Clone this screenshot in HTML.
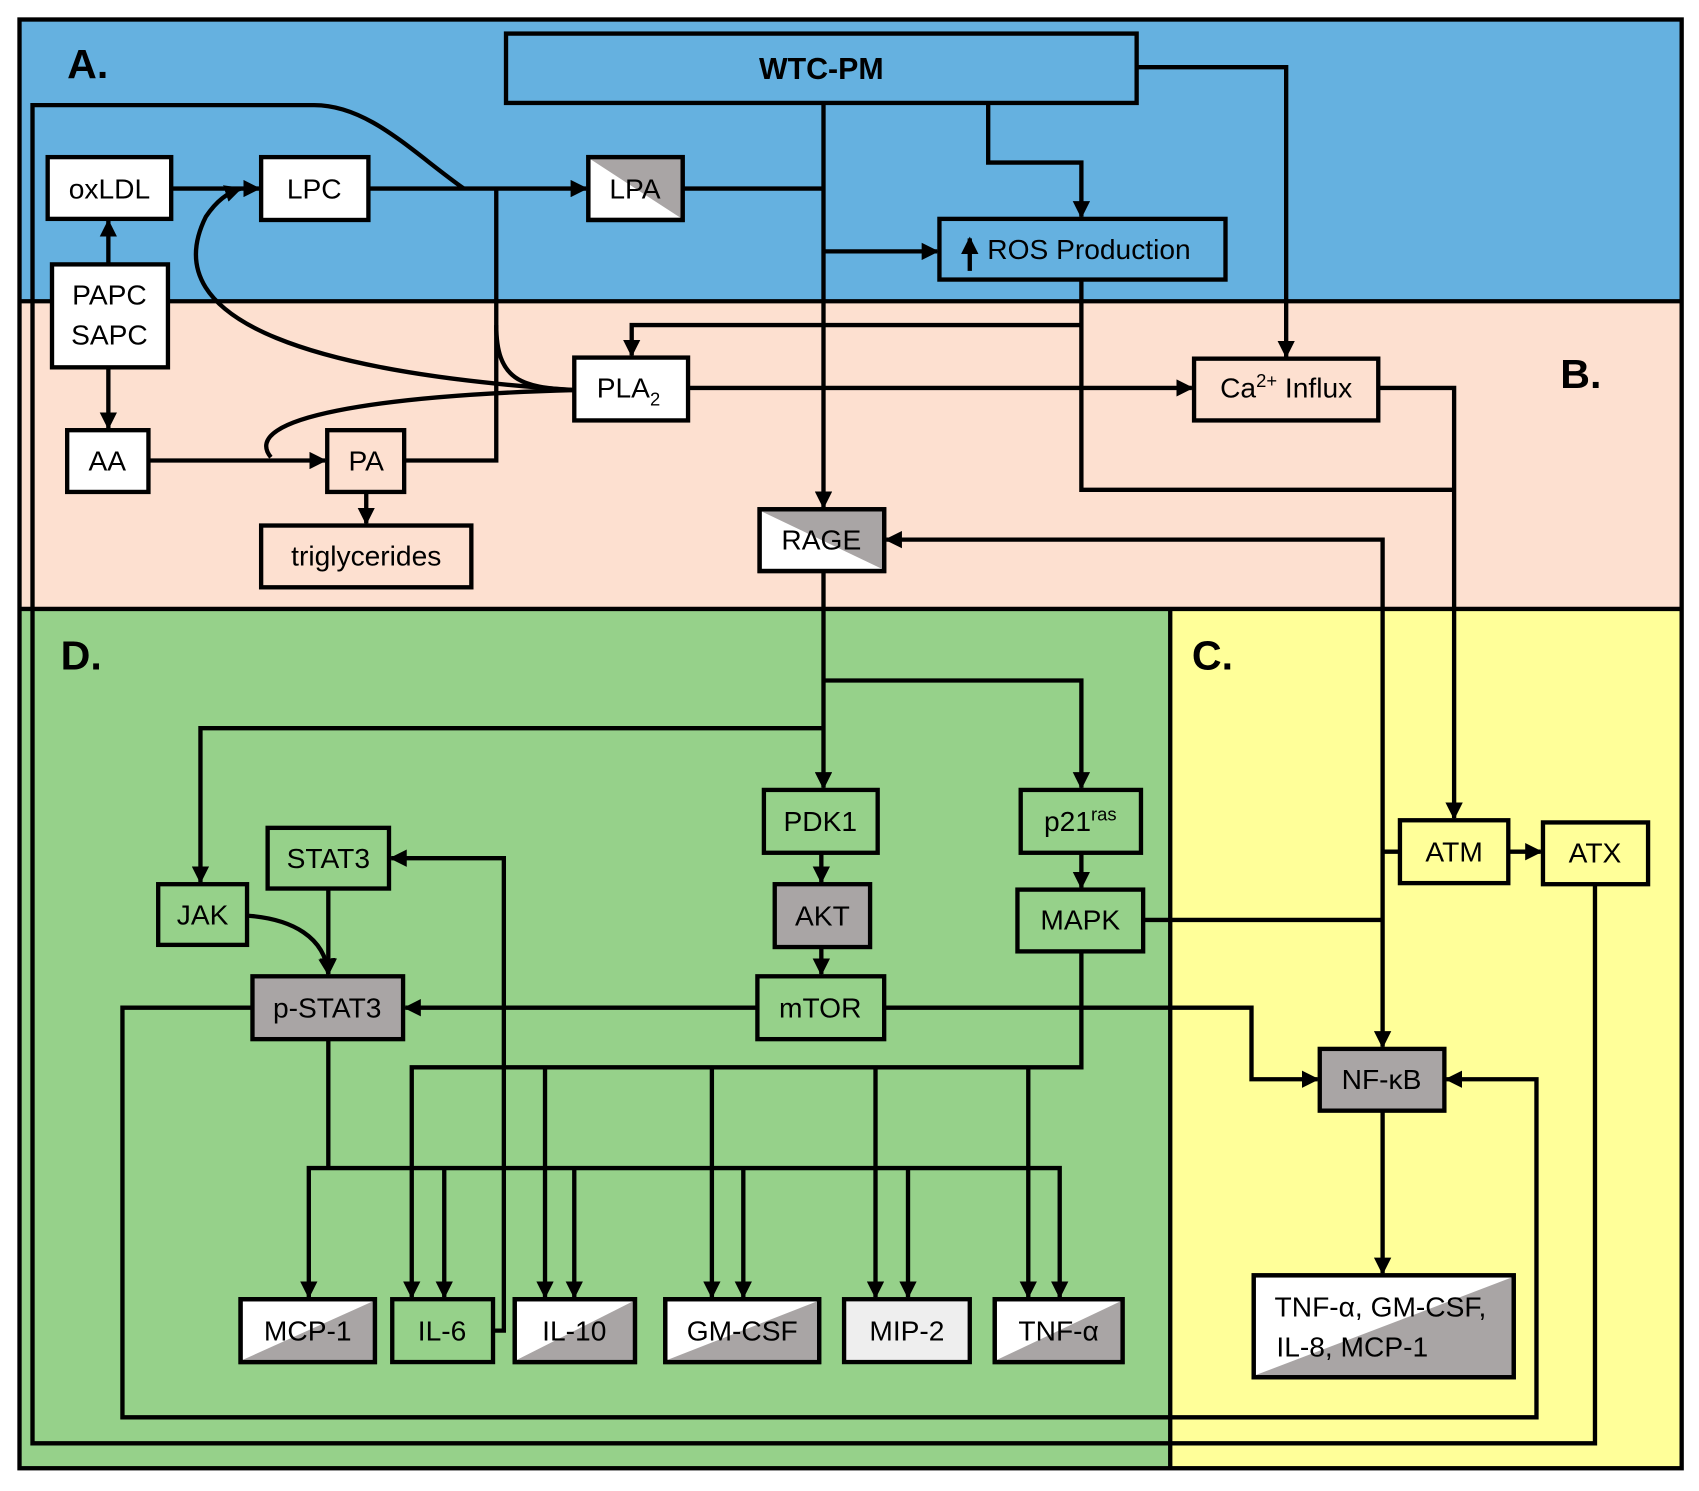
<!DOCTYPE html>
<html><head><meta charset="utf-8"><style>html,body{margin:0;padding:0;background:#fff}svg{display:block}text{font-family:"Liberation Sans",sans-serif}</style></head><body>
<svg width="1699" height="1491" viewBox="0 0 1568 1376" preserveAspectRatio="none" xmlns="http://www.w3.org/2000/svg">
<defs><marker id="a" viewBox="0 0 10 10" refX="9" refY="5" markerWidth="4" markerHeight="4" orient="auto-start-reverse"><path d="M0,0L10,5L0,10z" fill="#000"/></marker></defs>
<rect x="18" y="18" width="1534" height="260" fill="#65b1e0"/>
<rect x="18" y="278" width="1534" height="284" fill="#fde0d0"/>
<rect x="18" y="562" width="1062" height="793" fill="#96d18a"/>
<rect x="1080" y="562" width="472" height="793" fill="#ffff99"/>
<g fill="none" stroke="#000" stroke-width="4">
<rect x="18" y="18" width="1534" height="1337"/>
<line x1="18" y1="278" x2="1552" y2="278"/><line x1="18" y1="562" x2="1552" y2="562"/><line x1="1080" y1="562" x2="1080" y2="1355"/>
</g>
<g font-weight="bold" font-size="38"><text x="62" y="72">A.</text><text x="1440" y="358">B.</text><text x="1100" y="618">C.</text><text x="56" y="618">D.</text></g>
<g fill="none" stroke="#000" stroke-width="4">
<path d="M760,95V468" marker-end="url(#a)"/>
<path d="M760,232H865" marker-end="url(#a)"/>
<path d="M630,174H760"/>
<path d="M912,95V150H998V200" marker-end="url(#a)"/>
<path d="M1049,62H1187V329" marker-end="url(#a)"/>
<path d="M1472,816V1332H30V97H290C340,97 380,140 428,174"/>
<path d="M158,174H239" marker-end="url(#a)"/>
<path d="M340,174H541" marker-end="url(#a)"/>
<path d="M100,244V204" marker-end="url(#a)"/>
<path d="M100,339V395" marker-end="url(#a)"/>
<path d="M137,425H300" marker-end="url(#a)"/>
<path d="M338,454V483" marker-end="url(#a)"/>
<path d="M373,425H458V174"/>
<path d="M530,360C480,358 458,350 458,300"/>
<path d="M530,360C300,345 140,300 190,200C200,185 210,178 222,174" marker-end="url(#a)"/>
<path d="M530,360C350,365 220,385 250,422"/>
<path d="M998,258V452H1342"/>
<path d="M1272,358H1342V755" marker-end="url(#a)"/>
<path d="M998,300H583V328" marker-end="url(#a)"/>
<path d="M635,358H1100" marker-end="url(#a)"/>
<path d="M1276,966V498H818" marker-start="url(#a)" marker-end="url(#a)"/>
<path d="M760,527V727" marker-end="url(#a)"/>
<path d="M760,628H998V727" marker-end="url(#a)"/>
<path d="M760,672H185V814" marker-end="url(#a)"/>
<path d="M758,787V814" marker-end="url(#a)"/>
<path d="M758,874V899" marker-end="url(#a)"/>
<path d="M998,787V819" marker-end="url(#a)"/>
<path d="M1055,849H1276"/>
<path d="M1292,786H1276"/>
<path d="M1392,786H1422" marker-end="url(#a)"/>
<path d="M816,930H1155V996H1216" marker-end="url(#a)"/>
<path d="M699,930H374" marker-end="url(#a)"/>
<path d="M233,930H113V1308H1418V996H1335" marker-end="url(#a)"/>
<path d="M303,820V899" marker-end="url(#a)"/>
<path d="M228,845C270,848 300,865 303,899" marker-end="url(#a)"/>
<path d="M455,1228H465V792H361" marker-end="url(#a)"/>
<path d="M998,878V985H380V1197" marker-end="url(#a)"/>
<path d="M503,985V1197" marker-end="url(#a)"/>
<path d="M657,985V1197" marker-end="url(#a)"/>
<path d="M808,985V1197" marker-end="url(#a)"/>
<path d="M949,985V1197" marker-end="url(#a)"/>
<path d="M303,959V1078"/>
<path d="M285,1197V1078H978V1197" marker-start="url(#a)" marker-end="url(#a)"/>
<path d="M410,1078V1197" marker-end="url(#a)"/>
<path d="M530,1078V1197" marker-end="url(#a)"/>
<path d="M686,1078V1197" marker-end="url(#a)"/>
<path d="M838,1078V1197" marker-end="url(#a)"/>
<path d="M1276,1025V1175" marker-end="url(#a)"/>
</g>
<g stroke="#000" stroke-width="4">
<rect x="467" y="31" width="582" height="64" fill="#65b1e0"/>
<rect x="44" y="145" width="114" height="57" fill="#fff"/>
<rect x="241" y="145" width="99" height="58" fill="#fff"/>
<rect x="543" y="145" width="87" height="58" fill="#fff"/>
<rect x="867" y="202" width="264" height="56" fill="#65b1e0"/>
<rect x="48" y="244" width="107" height="95" fill="#fff"/>
<rect x="530" y="330" width="105" height="58" fill="#fff"/>
<rect x="1102" y="331" width="170" height="57" fill="#fde0d0"/>
<rect x="62" y="397" width="75" height="57" fill="#fff"/>
<rect x="302" y="397" width="71" height="57" fill="#fde0d0"/>
<rect x="241" y="485" width="194" height="57" fill="#fde0d0"/>
<rect x="701" y="470" width="115" height="57" fill="#fff"/>
<rect x="705" y="729" width="105" height="58" fill="#96d18a"/>
<rect x="942" y="729" width="111" height="58" fill="#96d18a"/>
<rect x="247" y="764" width="112" height="56" fill="#96d18a"/>
<rect x="146" y="816" width="82" height="56" fill="#96d18a"/>
<rect x="715" y="816" width="88" height="58" fill="#a9a5a5"/>
<rect x="939" y="821" width="116" height="57" fill="#96d18a"/>
<rect x="233" y="901" width="139" height="58" fill="#a9a5a5"/>
<rect x="699" y="901" width="117" height="58" fill="#96d18a"/>
<rect x="1292" y="757" width="100" height="58" fill="#ffff99"/>
<rect x="1424" y="759" width="97" height="57" fill="#ffff99"/>
<rect x="1218" y="968" width="115" height="57" fill="#a9a5a5"/>
<rect x="1157" y="1177" width="240" height="94" fill="#fff"/>
<rect x="222" y="1199" width="124" height="58" fill="#fff"/>
<rect x="362" y="1199" width="93" height="58" fill="#96d18a"/>
<rect x="475" y="1199" width="111" height="58" fill="#fff"/>
<rect x="614" y="1199" width="142" height="58" fill="#fff"/>
<rect x="779" y="1199" width="116" height="58" fill="#eeeeee"/>
<rect x="918" y="1199" width="118" height="58" fill="#fff"/>
</g>
<g fill="#a9a5a5">
<polygon points="545,147 628,147 628,201"/>
<polygon points="703,472 814,472 814,525"/>
<polygon points="1159,1269 1395,1179 1395,1269"/>
<polygon points="224,1255 344,1201 344,1255"/>
<polygon points="477,1255 584,1201 584,1255"/>
<polygon points="616,1255 754,1201 754,1255"/>
<polygon points="920,1255 1034,1201 1034,1255"/>
</g>
<g fill="none" stroke="#000" stroke-width="4">
<rect x="543" y="145" width="87" height="58"/><rect x="701" y="470" width="115" height="57"/><rect x="1157" y="1177" width="240" height="94"/>
<rect x="222" y="1199" width="124" height="58"/><rect x="475" y="1199" width="111" height="58"/><rect x="614" y="1199" width="142" height="58"/><rect x="918" y="1199" width="118" height="58"/>
</g>
<g font-size="26" text-anchor="middle">
<text x="758" y="73" font-weight="bold" font-size="28">WTC-PM</text>
<text x="101" y="183">oxLDL</text><text x="290" y="183">LPC</text><text x="586" y="183">LPA</text>
<text x="1005" y="239">ROS Production</text>
<text x="101" y="281">PAPC</text><text x="101" y="318">SAPC</text>
<text x="580" y="367">PLA<tspan font-size="17" dy="7">2</tspan></text>
<text x="1187" y="367">Ca<tspan font-size="17" dy="-10">2+</tspan><tspan dy="10"> Influx</tspan></text>
<text x="99" y="434">AA</text><text x="338" y="434">PA</text><text x="338" y="522">triglycerides</text>
<text x="758" y="507">RAGE</text>
<text x="757" y="767">PDK1</text><text x="997" y="767">p21<tspan font-size="17" dy="-10">ras</tspan></text>
<text x="303" y="801">STAT3</text><text x="187" y="853">JAK</text><text x="759" y="854">AKT</text><text x="997" y="858">MAPK</text>
<text x="302" y="939">p-STAT3</text><text x="757" y="939">mTOR</text>
<text x="1342" y="795">ATM</text><text x="1472" y="796">ATX</text><text x="1275" y="1005">NF-κB</text>
<text x="1274" y="1215">TNF-α, GM-CSF,</text><text x="1248" y="1252">IL-8, MCP-1</text>
<text x="284" y="1237">MCP-1</text><text x="408" y="1237">IL-6</text><text x="530" y="1237">IL-10</text>
<text x="685" y="1237">GM-CSF</text><text x="837" y="1237">MIP-2</text><text x="977" y="1237">TNF-α</text>
</g>
<path d="M895,250V220" stroke="#000" stroke-width="4" marker-end="url(#a)"/>
</svg>
</body></html>
